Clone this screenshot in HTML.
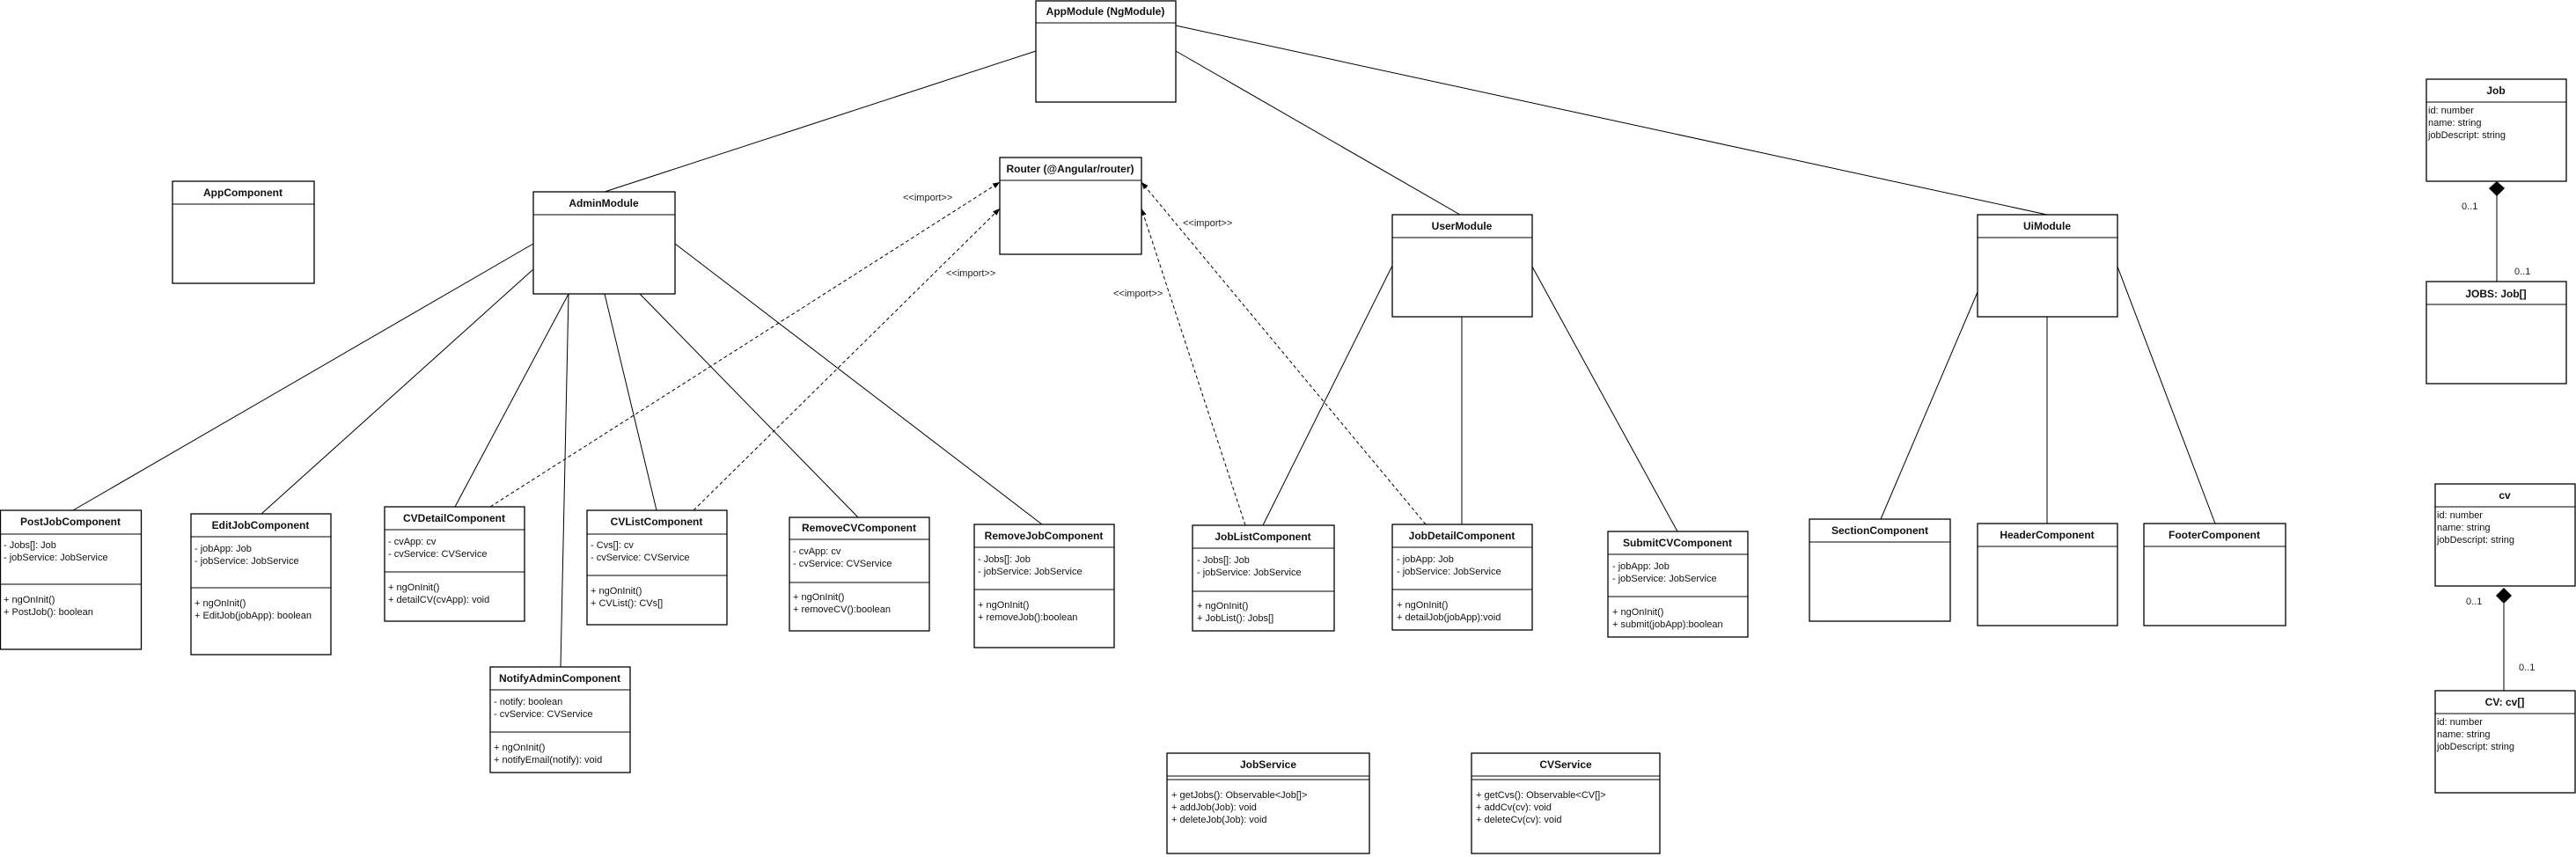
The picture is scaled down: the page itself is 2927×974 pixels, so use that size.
<!DOCTYPE html>
<html><head><meta charset="utf-8"><style>
html,body{margin:0;padding:0;background:#fff;}
svg{display:block;}
text{font-family:"Liberation Sans",Arial,sans-serif;font-size:11px;fill:#111;}
.t{font-weight:bold;font-size:12px;text-anchor:middle;dominant-baseline:central;}
.a{dominant-baseline:central;}
.lbl{font-size:11px;dominant-baseline:central;fill:#222;}
rect{fill:#fff;stroke:#000;stroke-width:1.3;}
.l{stroke:#000;stroke-width:1;fill:none;}
.d{stroke:#000;stroke-width:1;fill:none;stroke-dasharray:4,3;}
</style></head><body>
<svg width="2927" height="974" viewBox="0 0 2927 974" xmlns="http://www.w3.org/2000/svg">
<defs>
<marker id="ar" viewBox="0 0 10 10" refX="10" refY="5" markerWidth="8" markerHeight="8" orient="auto" markerUnits="userSpaceOnUse">
<path d="M0,1 L10,5 L0,9 z" fill="#000"/>
</marker>
</defs>

<!-- connectors -->
<line class="l" x1="687" y1="218" x2="1177" y2="58"/>
<line class="l" x1="1336" y1="58" x2="1659" y2="244"/>
<line class="l" x1="1336" y1="29" x2="2326" y2="244"/>
<line class="l" x1="606" y1="277" x2="83" y2="580"/>
<line class="l" x1="606" y1="306" x2="297" y2="584"/>
<line class="l" x1="646" y1="334" x2="517" y2="576"/>
<line class="l" x1="646" y1="334" x2="637" y2="758"/>
<line class="l" x1="687" y1="334" x2="746" y2="580"/>
<line class="l" x1="727" y1="334" x2="975" y2="588"/>
<line class="l" x1="767" y1="277" x2="1184" y2="596"/>
<line class="l" x1="1582" y1="302" x2="1435" y2="597"/>
<line class="l" x1="1661" y1="360" x2="1661" y2="596"/>
<line class="l" x1="1741" y1="303" x2="1906" y2="604"/>
<line class="l" x1="2247" y1="332" x2="2137" y2="590"/>
<line class="l" x1="2326" y1="360" x2="2326" y2="595"/>
<line class="l" x1="2406" y1="303" x2="2517" y2="595"/>
<line class="l" x1="2837" y1="222" x2="2837" y2="320"/>
<line class="l" x1="2845" y1="686" x2="2845" y2="785"/>

<line class="d" x1="557" y1="576" x2="1136" y2="207" marker-end="url(#ar)"/>
<line class="d" x1="788" y1="580" x2="1136" y2="237" marker-end="url(#ar)"/>
<line class="d" x1="1415" y1="597" x2="1297" y2="237" marker-end="url(#ar)"/>
<line class="d" x1="1620" y1="596" x2="1297" y2="207" marker-end="url(#ar)"/>
<text class="lbl" x="1026" y="225">&lt;&lt;import&gt;&gt;</text>
<text class="lbl" x="1075" y="311">&lt;&lt;import&gt;&gt;</text>
<text class="lbl" x="1265" y="334">&lt;&lt;import&gt;&gt;</text>
<text class="lbl" x="1344" y="254">&lt;&lt;import&gt;&gt;</text>

<!-- AppModule -->
<rect x="1177" y="1" width="159" height="115"/><line class="l" x1="1177" y1="26" x2="1336" y2="26"/>
<text class="t" x="1256" y="13">AppModule (NgModule)</text>
<!-- AppComponent -->
<rect x="196" y="206" width="161" height="116"/><line class="l" x1="196" y1="232" x2="357" y2="232"/>
<text class="t" x="276" y="219">AppComponent</text>
<!-- AdminModule -->
<rect x="606" y="218" width="161" height="116"/><line class="l" x1="606" y1="244" x2="767" y2="244"/>
<text class="t" x="686" y="231">AdminModule</text>
<!-- Router -->
<rect x="1136" y="179" width="161" height="110"/><line class="l" x1="1136" y1="205" x2="1297" y2="205"/>
<text class="t" x="1216" y="192">Router (@Angular/router)</text>
<!-- UserModule -->
<rect x="1582" y="244" width="159" height="116"/><line class="l" x1="1582" y1="270" x2="1741" y2="270"/>
<text class="t" x="1661" y="257">UserModule</text>
<!-- UiModule -->
<rect x="2247" y="244" width="159" height="116"/><line class="l" x1="2247" y1="270" x2="2406" y2="270"/>
<text class="t" x="2326" y="257">UiModule</text>

<!-- PostJob -->
<rect x="0.5" y="580" width="160" height="158"/><line class="l" x1="0" y1="607" x2="160" y2="607"/><line class="l" x1="0" y1="664" x2="160" y2="664"/>
<text class="t" x="80" y="593">PostJobComponent</text>
<text class="a" x="4" y="620">- Jobs[]: Job</text><text class="a" x="4" y="634">- jobService: JobService</text>
<text class="a" x="4" y="682">+ ngOnInit()</text><text class="a" x="4" y="696">+ PostJob(): boolean</text>
<!-- EditJob -->
<rect x="217" y="584" width="159" height="160"/><line class="l" x1="217" y1="610" x2="376" y2="610"/><line class="l" x1="217" y1="668" x2="376" y2="668"/>
<text class="t" x="296" y="597">EditJobComponent</text>
<text class="a" x="221" y="624">- jobApp: Job</text><text class="a" x="221" y="638">- jobService: JobService</text>
<text class="a" x="221" y="686">+ ngOnInit()</text><text class="a" x="221" y="700">+ EditJob(jobApp): boolean</text>
<!-- CVDetail -->
<rect x="437" y="576" width="159" height="130"/><line class="l" x1="437" y1="602" x2="596" y2="602"/><line class="l" x1="437" y1="650" x2="596" y2="650"/>
<text class="t" x="516" y="589">CVDetailComponent</text>
<text class="a" x="441" y="616">- cvApp: cv</text><text class="a" x="441" y="630">- cvService: CVService</text>
<text class="a" x="441" y="668">+ ngOnInit()</text><text class="a" x="441" y="682">+ detailCV(cvApp): void</text>
<!-- CVList -->
<rect x="667" y="580" width="159" height="130"/><line class="l" x1="667" y1="607" x2="826" y2="607"/><line class="l" x1="667" y1="654" x2="826" y2="654"/>
<text class="t" x="746" y="593">CVListComponent</text>
<text class="a" x="671" y="620">- Cvs[]: cv</text><text class="a" x="671" y="634">- cvService: CVService</text>
<text class="a" x="671" y="672">+ ngOnInit()</text><text class="a" x="671" y="686">+ CVList(): CVs[]</text>
<!-- RemoveCV -->
<rect x="897" y="588" width="159" height="129"/><line class="l" x1="897" y1="613" x2="1056" y2="613"/><line class="l" x1="897" y1="662" x2="1056" y2="662"/>
<text class="t" x="976" y="600">RemoveCVComponent</text>
<text class="a" x="901" y="627">- cvApp: cv</text><text class="a" x="901" y="641">- cvService: CVService</text>
<text class="a" x="901" y="679">+ ngOnInit()</text><text class="a" x="901" y="693">+ removeCV():boolean</text>
<!-- RemoveJob -->
<rect x="1107" y="596" width="159" height="140"/><line class="l" x1="1107" y1="622" x2="1266" y2="622"/><line class="l" x1="1107" y1="670" x2="1266" y2="670"/>
<text class="t" x="1186" y="609">RemoveJobComponent</text>
<text class="a" x="1111" y="636">- Jobs[]: Job</text><text class="a" x="1111" y="650">- jobService: JobService</text>
<text class="a" x="1111" y="688">+ ngOnInit()</text><text class="a" x="1111" y="702">+ removeJob():boolean</text>
<!-- NotifyAdmin -->
<rect x="557" y="758" width="159" height="120"/><line class="l" x1="557" y1="784" x2="716" y2="784"/><line class="l" x1="557" y1="832" x2="716" y2="832"/>
<text class="t" x="636" y="771">NotifyAdminComponent</text>
<text class="a" x="561" y="798">- notify: boolean</text><text class="a" x="561" y="812">- cvService: CVService</text>
<text class="a" x="561" y="850">+ ngOnInit()</text><text class="a" x="561" y="864">+ notifyEmail(notify): void</text>
<!-- JobList -->
<rect x="1355" y="597" width="161" height="120"/><line class="l" x1="1355" y1="623" x2="1516" y2="623"/><line class="l" x1="1355" y1="672" x2="1516" y2="672"/>
<text class="t" x="1435" y="610">JobListComponent</text>
<text class="a" x="1360" y="637">- Jobs[]: Job</text><text class="a" x="1360" y="651">- jobService: JobService</text>
<text class="a" x="1360" y="689">+ ngOnInit()</text><text class="a" x="1360" y="703">+ JobList(): Jobs[]</text>
<!-- JobDetail -->
<rect x="1582" y="596" width="159" height="120"/><line class="l" x1="1582" y1="622" x2="1741" y2="622"/><line class="l" x1="1582" y1="670" x2="1741" y2="670"/>
<text class="t" x="1661" y="609">JobDetailComponent</text>
<text class="a" x="1587" y="636">- jobApp: Job</text><text class="a" x="1587" y="650">- jobService: JobService</text>
<text class="a" x="1587" y="688">+ ngOnInit()</text><text class="a" x="1587" y="702">+ detailJob(jobApp):void</text>
<!-- SubmitCV -->
<rect x="1827" y="604" width="159" height="120"/><line class="l" x1="1827" y1="630" x2="1986" y2="630"/><line class="l" x1="1827" y1="678" x2="1986" y2="678"/>
<text class="t" x="1906" y="617">SubmitCVComponent</text>
<text class="a" x="1832" y="644">- jobApp: Job</text><text class="a" x="1832" y="658">- jobService: JobService</text>
<text class="a" x="1832" y="696">+ ngOnInit()</text><text class="a" x="1832" y="710">+ submit(jobApp):boolean</text>
<!-- Section/Header/Footer -->
<rect x="2056" y="590" width="160" height="116"/><line class="l" x1="2056" y1="616" x2="2216" y2="616"/>
<text class="t" x="2136" y="603">SectionComponent</text>
<rect x="2247" y="595" width="159" height="116"/><line class="l" x1="2247" y1="621" x2="2406" y2="621"/>
<text class="t" x="2326" y="608">HeaderComponent</text>
<rect x="2436" y="595" width="161" height="116"/><line class="l" x1="2436" y1="621" x2="2597" y2="621"/>
<text class="t" x="2516" y="608">FooterComponent</text>
<!-- Services -->
<rect x="1326" y="856" width="230" height="114"/><line class="l" x1="1326" y1="882" x2="1556" y2="882"/><line class="l" x1="1326" y1="886" x2="1556" y2="886"/>
<text class="t" x="1441" y="869">JobService</text>
<text class="a" x="1331" y="904">+ getJobs(): Observable&lt;Job[]&gt;</text><text class="a" x="1331" y="918">+ addJob(Job): void</text><text class="a" x="1331" y="932">+ deleteJob(Job): void</text>
<rect x="1672" y="856" width="214" height="114"/><line class="l" x1="1672" y1="882" x2="1886" y2="882"/><line class="l" x1="1672" y1="886" x2="1886" y2="886"/>
<text class="t" x="1779" y="869">CVService</text>
<text class="a" x="1677" y="904">+ getCvs(): Observable&lt;CV[]&gt;</text><text class="a" x="1677" y="918">+ addCv(cv): void</text><text class="a" x="1677" y="932">+ deleteCv(cv): void</text>
<!-- Job -->
<rect x="2757" y="90" width="159" height="116"/><line class="l" x1="2757" y1="116" x2="2916" y2="116"/>
<text class="t" x="2836" y="103">Job</text>
<text class="a" x="2759" y="126">id: number</text><text class="a" x="2759" y="140">name: string</text><text class="a" x="2759" y="154">jobDescript: string</text>
<path d="M2837,206 L2846,214 L2837,223 L2828,214 z" fill="#000"/>
<text class="lbl" x="2797" y="235">0..1</text><text class="lbl" x="2857" y="309">0..1</text>
<rect x="2757" y="320" width="159" height="116"/><line class="l" x1="2757" y1="346" x2="2916" y2="346"/>
<text class="t" x="2836" y="334">JOBS: Job[]</text>
<!-- cv -->
<rect x="2767" y="550" width="159" height="116"/><line class="l" x1="2767" y1="576" x2="2926" y2="576"/>
<text class="t" x="2846" y="563">cv</text>
<text class="a" x="2769" y="586">id: number</text><text class="a" x="2769" y="600">name: string</text><text class="a" x="2769" y="614">jobDescript: string</text>
<path d="M2845,668 L2854,677 L2845,686 L2836,677 z" fill="#000"/>
<text class="lbl" x="2802" y="684">0..1</text><text class="lbl" x="2862" y="759">0..1</text>
<rect x="2767" y="785" width="159" height="116"/><line class="l" x1="2767" y1="811" x2="2926" y2="811"/>
<text class="t" x="2846" y="798">CV: cv[]</text>
<text class="a" x="2769" y="821">id: number</text><text class="a" x="2769" y="835">name: string</text><text class="a" x="2769" y="849">jobDescript: string</text>
</svg>
</body></html>
